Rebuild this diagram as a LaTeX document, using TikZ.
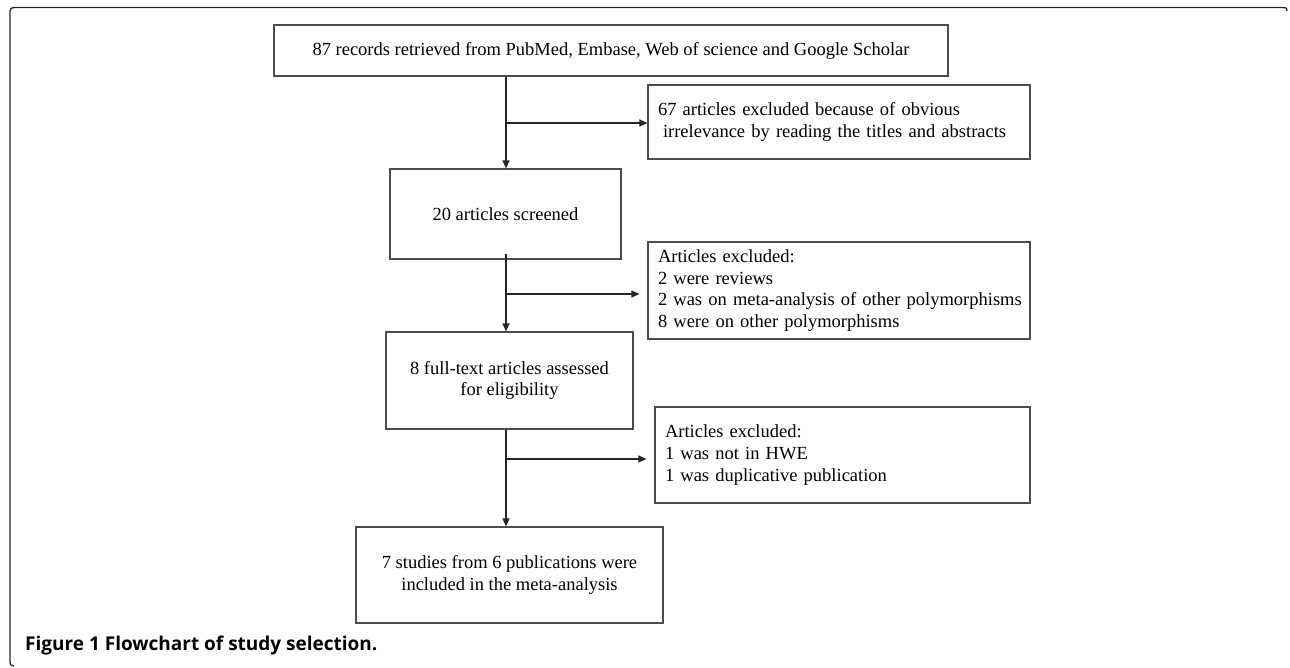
\documentclass[tikz,border=0pt]{standalone}
\usepackage{fontspec}
\setmainfont{Liberation Serif}
\newfontfamily\capfont{Open Sans}
\usetikzlibrary{arrows.meta}
\begin{document}
\begin{tikzpicture}[x=1pt,y=-1pt,
  box/.style={draw=black!70, line width=1.1pt, inner sep=0pt, align=center,
    font=\fontsize{18.5}{21.7}\selectfont},
  lbox/.style={box, align=left, inner xsep=10pt},
  conn/.style={draw=black!85, line width=1.2pt},
  arr/.style={conn, -{Triangle[length=8pt,width=7pt]}},
  frame/.style={draw=black!85, line width=1.3pt}
]
\useasboundingbox (0,0) rectangle (1290,668);
% frame
\draw[frame] (1287,11) .. controls (1287,8) .. (1283,7.5) -- (18,7.5)
  .. controls (10,7.5) .. (10,15.5) -- (10,658) .. controls (10,665) .. (14,666);

\node[box, minimum width=674pt, minimum height=51pt] (b1) at (611,50.5)
  {87 records retrieved from PubMed, Embase, Web of science and Google Scholar};
\node[lbox, text width=362pt, minimum height=74pt] (e1) at (839,122)
  {\mbox{67 articles excluded because of obvious}\\\mbox{\hspace*{5pt}irrelevance by reading the titles and abstracts}};
\node[box, minimum width=231pt, minimum height=90pt] (b2) at (505.5,214)
  {20 articles screened};
\node[lbox, text width=362pt, minimum height=97pt] (e2) at (839,290.5)
  {Articles excluded:\\2 were reviews\\\mbox{2 was on meta-analysis of other polymorphisms}\\\mbox{8 were on other polymorphisms}};
\node[box, minimum width=247pt, minimum height=97pt] (b3) at (509.5,380.5)
  {8 full-text articles assessed\\for eligibility};
\node[lbox, text width=355pt, minimum height=96pt] (e3) at (842.5,455)
  {Articles excluded:\\1 was not in HWE\\\mbox{1 was duplicative publication}};
\node[box, minimum width=307pt, minimum height=96pt] (b4) at (509.5,575)
  {7 studies from 6 publications were\\included in the meta-analysis};

\coordinate (j1) at (506,123);
\coordinate (j2) at (506,294);
\coordinate (j3) at (506,459);

\draw[arr] (j1 |- b1.south) -- (j1 |- b2.north);
\draw[arr] (j1) -- (e1.west |- j1);
\draw[arr] ([yshift=6pt]j2 |- b2.south) -- (j2 |- b3.north);
\draw[arr, shorten >=8pt] (j2) -- (e2.west |- j2);
\draw[arr] (j3 |- b3.south) -- (j3 |- b4.north);
\draw[arr, shorten >=8pt] (j3) -- (e3.west |- j3);

\node[anchor=west, inner sep=0pt, font=\capfont\bfseries\fontsize{19}{22}\selectfont] (cap) at (25,646)
  {Figure 1 Flowchart of study selection.};
\end{tikzpicture}
\end{document}
